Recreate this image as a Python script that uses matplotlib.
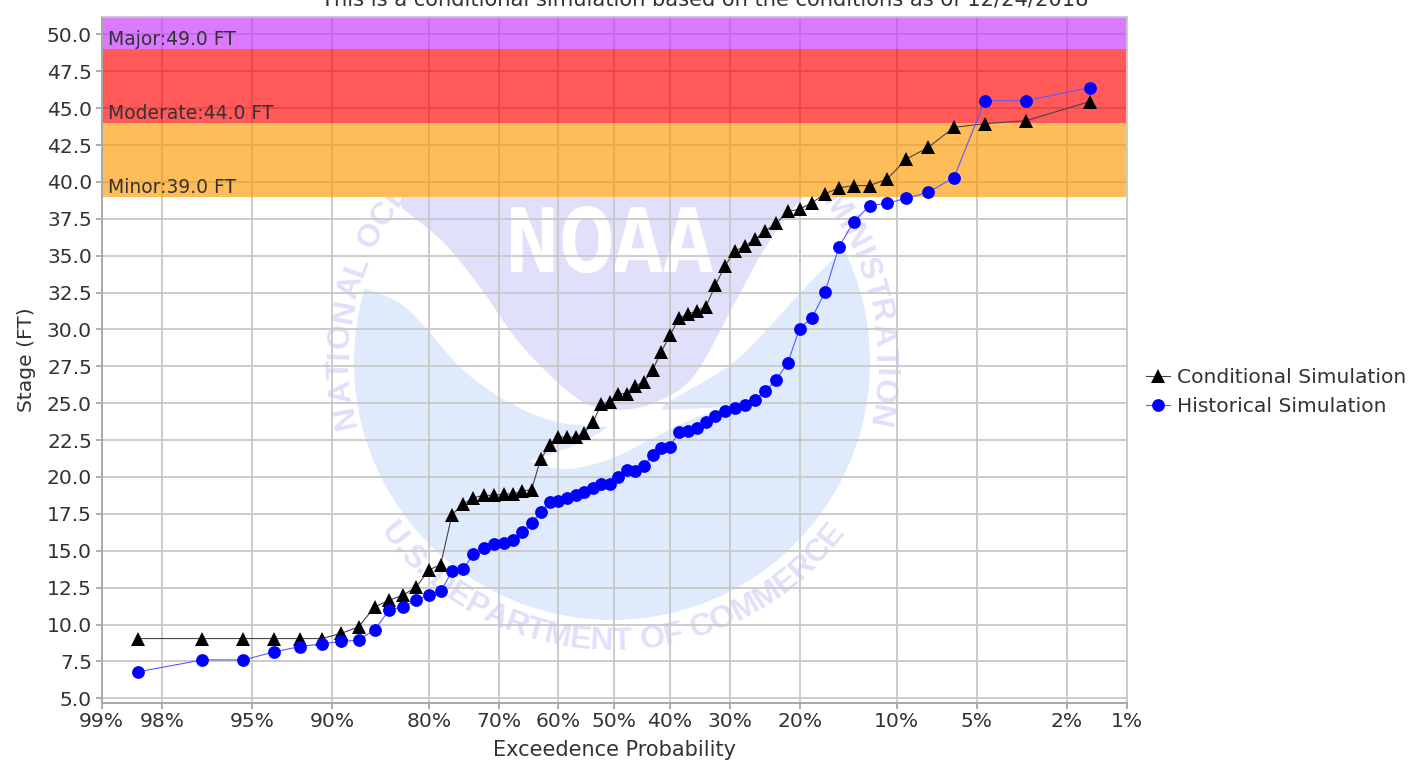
import numpy as np
import matplotlib
matplotlib.use("Agg")
import matplotlib.pyplot as plt
from matplotlib.patches import Polygon
from matplotlib.patheffects import AbstractPathEffect
from matplotlib.transforms import Affine2D
from matplotlib.font_manager import FontProperties
from statistics import NormalDist

# exceedance probability (%) of each simulated trace
exceedance = [98.46, 96.92, 95.38, 93.85, 92.31, 90.77, 89.23, 87.69, 86.15, 84.62, 83.08,
              81.54, 80.00, 78.46, 76.92, 75.38, 73.85, 72.31, 70.77, 69.23, 67.69, 66.15,
              64.62, 63.08, 61.54, 60.00, 58.46, 56.92, 55.38, 53.85, 52.31, 50.77, 49.23,
              47.69, 46.15, 44.62, 43.08, 41.54, 40.00, 38.46, 36.92, 35.38, 33.85, 32.31,
              30.77, 29.23, 27.69, 26.15, 24.62, 23.08, 21.54, 20.00, 18.46, 16.92, 15.38,
              13.85, 12.31, 10.77, 9.23, 7.69, 6.15, 4.62, 3.08, 1.54]

conditional = [9.05, 9.05, 9.05, 9.05, 9.05, 9.05, 9.4, 9.85, 11.2, 11.65, 12.0,
               12.55, 13.7, 14.05, 17.45, 18.15, 18.6, 18.75, 18.75, 18.85, 18.85, 19.05,
               19.15, 21.2, 22.15, 22.7, 22.7, 22.7, 23.0, 23.7, 24.95, 25.1, 25.65,
               25.65, 26.2, 26.45, 27.25, 28.5, 29.6, 30.75, 31.05, 31.25, 31.55, 33.0,
               34.3, 35.3, 35.65, 36.1, 36.7, 37.2, 38.0, 38.15, 38.6, 39.2, 39.6,
               39.75, 39.75, 40.2, 41.55, 42.35, 43.7, 43.95, 44.15, 45.45]

historical = [6.8, 7.6, 7.6, 8.15, 8.5, 8.7, 8.85, 8.95, 9.65, 11.0, 11.2,
              11.65, 12.0, 12.25, 13.6, 13.75, 14.75, 15.2, 15.45, 15.55, 15.7, 16.25,
              16.9, 17.6, 18.3, 18.4, 18.6, 18.75, 19.0, 19.25, 19.55, 19.55, 20.0,
              20.45, 20.4, 20.75, 21.5, 21.95, 22.05, 23.05, 23.15, 23.3, 23.75, 24.1,
              24.45, 24.7, 24.9, 25.25, 25.8, 26.6, 27.75, 30.05, 30.8, 32.55, 35.6,
              37.3, 38.4, 38.55, 38.9, 39.3, 40.3, 45.5, 45.5, 46.4]

prob_ticks = [99, 98, 95, 90, 80, 70, 60, 50, 40, 30, 20, 10, 5, 2, 1]
prob_labels = ["99%", "98%", "95%", "90%", "80%", "70%", "60%", "50%", "40%", "30%", "20%", "10%", "5%", "2%", "1%"]
stage_ticks = [5.0, 7.5, 10.0, 12.5, 15.0, 17.5, 20.0, 22.5, 25.0, 27.5, 30.0, 32.5, 35.0, 37.5, 40.0, 42.5, 45.0, 47.5, 50.0]

flood_names = ["Minor", "Moderate", "Major"]
flood_levels = [39.0, 44.0, 49.0]
flood_colors = ["#ff9a00", "#ff0000", "#c733ff"]

W, H = 1421, 773
LOGO_BLUE = "#dfeafd"
LOGO_PURPLE = "#e0e0fa"
GRID = "#c8c8c8"
TEXT = "#333333"
FS = 14.6

plt.rcParams["font.family"] = "DejaVu Sans"

norm = NormalDist()


def prob_to_z(p):
    p = np.clip(np.asarray(p, dtype=float), 1e-4, 100 - 1e-4)
    return np.vectorize(norm.inv_cdf, otypes=[float])(p / 100)


def z_to_prob(z):
    return 100 * np.vectorize(norm.cdf, otypes=[float])(np.asarray(z, dtype=float))


class Squeeze(AbstractPathEffect):
    # narrows the glyphs, the logo lettering is tall and condensed
    def __init__(self, sx):
        super().__init__()
        self.sx = sx

    def draw_path(self, renderer, gc, tpath, affine, rgbFace=None):
        renderer.draw_path(gc, tpath, Affine2D().scale(self.sx, 1) + affine, rgbFace)


def smooth(pts, n=12):
    # catmull-rom through the traced logo outline
    p = np.array([pts[0]] + list(pts) + [pts[-1]], dtype=float)
    out = []
    for i in range(1, len(p) - 2):
        for t in np.linspace(0, 1, n, endpoint=False):
            out.append(0.5 * (2 * p[i] + (p[i + 1] - p[i - 1]) * t
                              + (2 * p[i - 1] - 5 * p[i] + 4 * p[i + 1] - p[i + 2]) * t ** 2
                              + (3 * p[i] - p[i - 1] - 3 * p[i + 1] + p[i + 2]) * t ** 3))
    out.append(p[-2])
    return [tuple(v) for v in out]


fig = plt.figure(figsize=(W / 100, H / 100), dpi=100)

# watermark lives on a pixel-sized axes behind the chart
bg = fig.add_axes([0, 0, 1, 1], zorder=0)
bg.set_xlim(0, W)
bg.set_ylim(H, 0)
bg.axis("off")

cx, cy, R = 612, 362, 258
a0 = np.arctan2(252 - cy, 840 - cx)
a1 = np.arctan2(288 - cy, 363 - cx)
if a1 < a0:
    a1 += 2 * np.pi
ang = np.linspace(a0, a1, 120)
arc = list(zip(cx + R * np.cos(ang), cy + R * np.sin(ang)))
upper_left = [(363, 288), (398, 302), (425, 327), (463, 370), (510, 403), (557, 422), (608, 427)]
swoosh_top = [(608, 427), (590, 438), (563, 450), (529, 461)]
swoosh_low = [(529, 461), (553, 468), (577, 468), (613, 458), (653, 438), (690, 420), (727, 407)]
wedge = [(664, 410), (667, 403), (730, 365), (773, 323), (800, 293), (840, 252)]
outline = arc + smooth(upper_left) + smooth(swoosh_top) + smooth(swoosh_low) + smooth(wedge)
bg.add_patch(Polygon(outline, closed=True, fc=LOGO_BLUE, ec="none"))

crest = [(402, 208), (444, 243), (482, 290), (517, 340), (555, 380), (585, 403),
         (616, 410), (654, 403), (693, 377), (731, 310), (762, 253), (792, 210), (811, 190)]
bg.add_patch(Polygon([(400, 190)] + smooth(crest), closed=True, fc=LOGO_PURPLE, ec="none"))
bg.text(505, 272, "NOAA", color="white", ha="left", va="baseline", fontsize=64, fontweight="bold",
        path_effects=[Squeeze(0.73)])

ring_font = FontProperties(family=["Liberation Sans", "DejaVu Sans"], size=23, weight="bold")
renderer = fig.canvas.get_renderer()


def ring_text(s, start, end, radius, sign):
    # angle measured from the top of the circle (sign=1) or from the bottom (sign=-1)
    w = [renderer.get_text_width_height_descent(c, ring_font, False)[0] for c in s]
    w = np.array([v if c != " " else 9 for v, c in zip(w, s)], dtype=float)
    pos = (np.cumsum(w) - w / 2) / w.sum()
    for c, f in zip(s, pos):
        t = np.radians(start + (end - start) * f)
        x = cx + radius * np.sin(t)
        y = cy - sign * radius * np.cos(t)
        bg.text(x, y, c, color=LOGO_PURPLE, fontproperties=ring_font, ha="center", va="center",
                rotation=-sign * np.degrees(t), rotation_mode="anchor")


ring_text("NATIONAL OCEANIC AND ATMOSPHERIC ADMINISTRATION", -104, 104, 272, 1)
ring_text("U.S. DEPARTMENT OF COMMERCE", -54, 54, 280, -1)

ax = fig.add_axes([101.7 / W, 1 - 702.7 / H, 1025 / W, 686 / H], zorder=1)
ax.patch.set_alpha(0)
ax.set_xscale("function", functions=(prob_to_z, z_to_prob))
ax.set_xticks(prob_ticks, prob_labels)
ax.minorticks_off()
ax.set_xlim(99, 1)
ax.set_ylim(4.7, 51.2)
ax.set_yticks(stage_ticks, ["%.1f" % v for v in stage_ticks])
ax.set_axisbelow(True)
ax.grid(True, color=GRID, lw=1.3)

# white backing hides the watermark behind the flood bands, grid still shows through them
top = ax.get_ylim()[1]
ax.axhspan(flood_levels[0], top, color="white", lw=0, zorder=0.2)
band_tops = flood_levels[1:] + [top]
for name, lo, hi, col in zip(flood_names, flood_levels, band_tops, flood_colors):
    ax.axhspan(lo, hi, color=col, alpha=0.65, lw=0, zorder=1)
    ax.annotate("%s:%.1f FT" % (name, lo), xy=(0, lo), xycoords=ax.get_yaxis_transform(),
                xytext=(4.5, 0), textcoords="offset points", fontsize=13.5, color=TEXT,
                va="bottom", ha="left", zorder=2)

l1, = ax.plot(exceedance, conditional, color="#444444", lw=0.8, marker="^", ms=9.5, mfc="black", mec="black", mew=0, zorder=3)
l2, = ax.plot(exceedance, historical, color="#5a5aff", lw=0.8, marker="o", ms=9.2, mfc="#0000ff", mec="#0000ff", mew=0, zorder=3)

for s in ["top", "right"]:
    ax.spines[s].set_color(GRID)
    ax.spines[s].set_linewidth(1.3)
for s in ["left", "bottom"]:
    ax.spines[s].set_color("#a8a8a8")
    ax.spines[s].set_linewidth(1.4)
ax.tick_params(axis="both", length=4, width=1.2, color="#a0a0a0", labelsize=FS, labelcolor=TEXT, pad=3)
ax.set_xlabel("Exceedence Probability", fontsize=15, color=TEXT, labelpad=6)
ax.set_ylabel("Stage (FT)", fontsize=FS, color=TEXT, labelpad=8)

fig.text(705 / W, 0.5 / H + 1, "This is a conditional simulation based on the conditions as of 12/24/2018",
         ha="center", va="center", fontsize=15.15, color=TEXT)

fig.legend([l1, l2], ["Conditional Simulation", "Historical Simulation"], loc="center left",
           bbox_to_anchor=(1146 / W, 1 - 392 / H), frameon=False, fontsize=FS, labelcolor=TEXT,
           handlelength=1.2, handletextpad=0.35, labelspacing=0.5, borderpad=0, borderaxespad=0)

fig.savefig("out.png", dpi=100)
